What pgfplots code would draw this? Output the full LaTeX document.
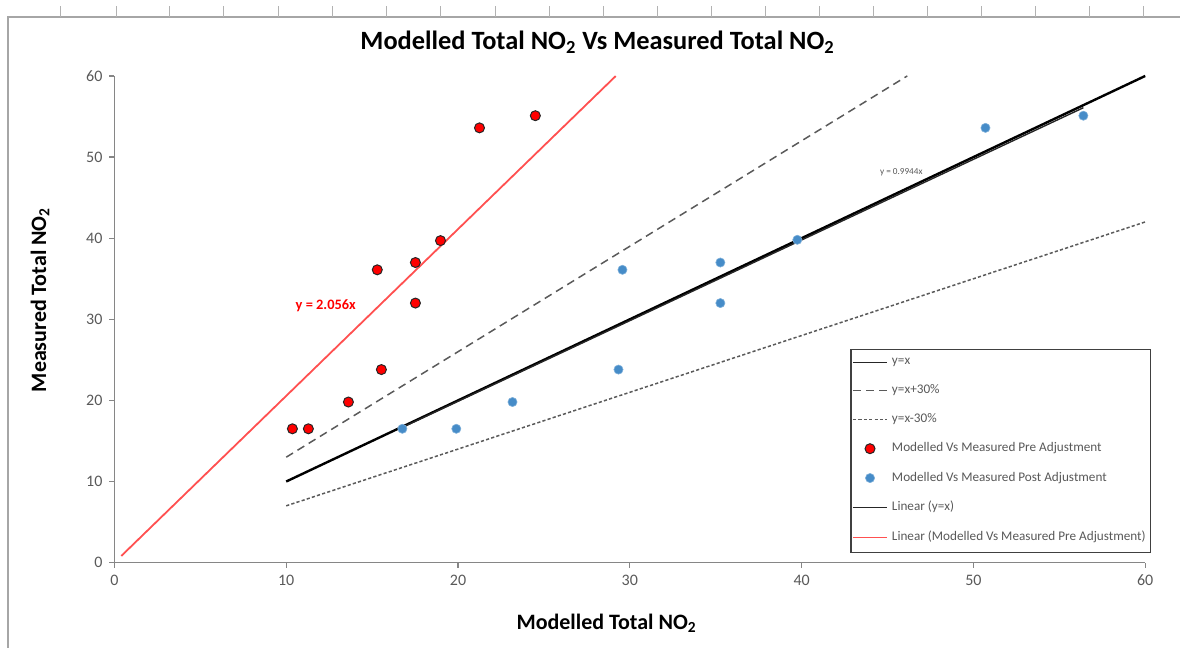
\documentclass[border=0pt]{standalone}
\usepackage{pgfplots}
\pgfplotsset{compat=1.18}
\usepackage{fontspec}
\setmainfont{Carlito}
\definecolor{axgray}{RGB}{134,134,134}
\definecolor{txtgray}{RGB}{89,89,89}
\definecolor{preRed}{RGB}{255,0,0}
\definecolor{postBlue}{RGB}{70,140,200}
\definecolor{trendRed}{RGB}{255,80,80}
\definecolor{dashgray}{RGB}{90,90,90}
\begin{document}
\begin{tikzpicture}[x=0.5pt,y=0.5pt]
\path (0,0) rectangle (1181,648);
% sheet frame
\draw[gray!70,line width=0.8pt] (8,0) -- (8,631) -- (1181,631);
\foreach \t in {60,116,170,224,279,333,387,441,496,550,604,658,712,766,820,874,928,982,1036,1090,1144}
  \draw[gray!60,line width=0.4pt] (\t,631) -- (\t,642);
% title
\node[font=\fontsize{13.2}{15}\selectfont\bfseries] at (598,606) {Modelled Total NO\textsubscript{2} Vs Measured Total NO\textsubscript{2}};
\node[font=\fontsize{11}{13}\selectfont\bfseries] at (607,24) {Modelled Total NO\textsubscript{2}};
\node[font=\fontsize{11}{13}\selectfont\bfseries,rotate=90] at (40,348) {Measured Total NO\textsubscript{2}};
\begin{axis}[
  at={(57.25pt,42.5pt)}, anchor=south west,
  scale only axis, width=515.75pt, height=243.5pt,
  xmin=0, xmax=60, ymin=0, ymax=60,
  xtick={0,10,...,60}, ytick={0,10,...,60},
  axis x line*=bottom, axis y line*=left,
  axis line style={-,axgray,line width=0.6pt},
  tick style={axgray,line width=0.6pt},
  tick align=outside, major tick length=2.5pt,
  tick label style={font=\fontsize{8}{9}\selectfont, text=txtgray},
  /pgf/number format/assume math mode=true,
  clip=false,
  legend style={at={(1.0058,0.4394)}, anchor=north east, draw=black!75, line width=0.6pt,
    font=\fontsize{6.6}{7.3}\selectfont, text=txtgray, row sep=4.6pt, inner xsep=0.5pt, inner ysep=2.2pt,
    legend cell align=left},
]
\addlegendimage{black!85, line width=0.7pt}
\addlegendentry{y=x}
\addplot[black, line width=1.2pt, forget plot] coordinates {(10,10) (60,60)};
\addplot[dashgray, line width=0.75pt, dash pattern=on 4pt off 2.6pt] coordinates {(10,13) (46.15,60)};
\addlegendentry{y=x+30\%}
\addplot[dashgray, line width=0.75pt, dash pattern=on 1.6pt off 1.1pt] coordinates {(10,7) (60,42)};
\addlegendentry{y=x-30\%}
\addplot[only marks, mark=*, mark size=2.5pt, mark options={fill=preRed, draw=black!85, line width=0.5pt}] coordinates {
(10.36,16.5) (11.29,16.5) (13.62,19.8) (15.54,23.8) (15.30,36.1) (17.52,37.0) (17.52,32.0) (18.98,39.7) (21.25,53.6) (24.50,55.1)};
\addlegendentry{Modelled Vs Measured Pre Adjustment}
\addplot[only marks, mark=*, mark size=2.3pt, mark options={fill=postBlue, draw=postBlue!70!white, line width=0.3pt}] coordinates {
(16.76,16.5) (19.90,16.5) (23.17,19.8) (29.34,23.8) (29.57,36.1) (35.27,37.0) (35.27,32.0) (39.75,39.8) (50.70,53.6) (56.40,55.1)};
\addlegendentry{Modelled Vs Measured Post Adjustment}
\addplot[black!85, line width=0.7pt] coordinates {(16.76,16.666) (56.4,56.084)};
\addlegendentry{Linear (y=x)}
\addplot[trendRed, line width=0.9pt] coordinates {(0.4,0.822) (29.18,59.99)};
\addlegendentry{Linear (Modelled Vs Measured Pre Adjustment)}
\node[text=red, font=\fontsize{7.2}{8}\selectfont\bfseries] at (axis cs:12.3,31.7) {y = 2.056x};
\node[text=txtgray, font=\fontsize{4.6}{5}\selectfont] at (axis cs:45.8,48.1) {y = 0.9944x};
\end{axis}
\end{tikzpicture}
\end{document}
